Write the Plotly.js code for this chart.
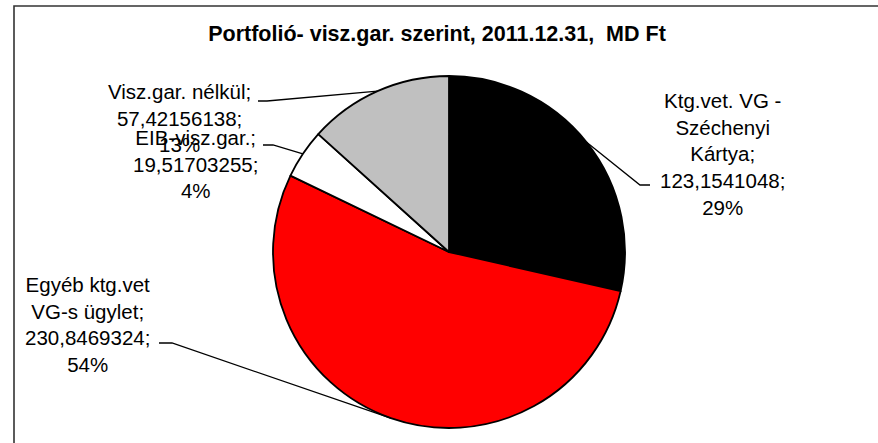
<!DOCTYPE html>
<html>
<head>
<meta charset="utf-8">
<script src="https://cdn.plot.ly/plotly-3.0.1.min.js"></script>
<style>html,body{margin:0;padding:0;background:#fff;}#chart{width:878px;height:443px;}</style>
</head>
<body>
<div id="chart"></div>
<script>
// ---- data ----
const categories = ["Ktg.vet. VG -<br>Széchenyi<br>Kártya", "Egyéb ktg.vet<br>VG-s ügylet", "EIB-visz.gar.", "Visz.gar. nélkül"];
const valueText = ["123,1541048", "230,8469324", "19,51703255", "57,42156138"];
const values = [123.1541048, 230.8469324, 19.51703255, 57.42156138];
const percentLabels = ["29%", "54%", "4%", "13%"];
const colors = ["#000000", "#FF0000", "#FFFFFF", "#C0C0C0"];

// ---- layout constants (pixels) ----
const W = 878, H = 443;
const CX = 449, CY = 252, R = 176;
// label block centers and leader attach points
const labelPos = [
  {x: 722, y: 154, tx: 650, ex: 640, ly: 185},
  {x: 87,  y: 324, tx: 159, ex: 172, ly: 343},
  {x: 195, y: 164, tx: 263, ex: 273, ly: 145},
  {x: 179, y: 118, tx: 258, ex: 267, ly: 101}
];

const px = v => v / W;
const py = v => 1 - v / H;

const total = values.reduce((a, b) => a + b, 0);
let cum = 0;
const shapes = [];
const annotations = [];
values.forEach((v, i) => {
  const mid = (cum + v / 2) / total;
  cum += v;
  const ang = mid * 2 * Math.PI;
  const exx = CX + R * Math.sin(ang);
  const eyy = CY - R * Math.cos(ang);
  const L = labelPos[i];
  shapes.push({
    type: 'path', xref: 'paper', yref: 'paper',
    path: `M ${px(L.tx)} ${py(L.ly)} L ${px(L.ex)} ${py(L.ly)} L ${px(exx)} ${py(eyy)}`,
    line: {color: '#000', width: 1.3}
  });
  annotations.push({
    xref: 'paper', yref: 'paper', x: px(L.x), y: py(L.y),
    xanchor: 'center', yanchor: 'middle', showarrow: false, align: 'center',
    text: categories[i] + ';<br>' + valueText[i] + ';<br>' + percentLabels[i],
    font: {family: 'Liberation Sans, Arial, sans-serif', size: 20.5, color: '#000'}
  });
});

// chart frame
shapes.push({
  type: 'rect', xref: 'paper', yref: 'paper',
  x0: px(14), x1: 1.2, y0: -0.2, y1: py(6),
  line: {color: '#333', width: 1.6}, fillcolor: 'rgba(0,0,0,0)', layer: 'below'
});

const trace = {
  type: 'pie',
  values: values,
  labels: categories,
  marker: {colors: colors, line: {color: '#000', width: 1.8}},
  sort: false,
  direction: 'clockwise',
  rotation: 0,
  textinfo: 'none',
  hoverinfo: 'none',
  showlegend: false,
  domain: {x: [px(CX - R), px(CX + R)], y: [py(CY + R), py(CY - R)]}
};

const layout = {
  width: W, height: H,
  margin: {l: 0, r: 0, t: 0, b: 0},
  paper_bgcolor: '#fff',
  title: {
    text: '<b>Portfolió- visz.gar. szerint, 2011.12.31,  MD Ft</b>',
    x: px(437), xanchor: 'center', y: py(33), yanchor: 'middle',
    font: {family: 'Liberation Sans, Arial, sans-serif', size: 21.5, color: '#000'}
  },
  shapes: shapes,
  annotations: annotations
};

Plotly.newPlot('chart', [trace], layout, {staticPlot: true});
</script>
</body>
</html>
